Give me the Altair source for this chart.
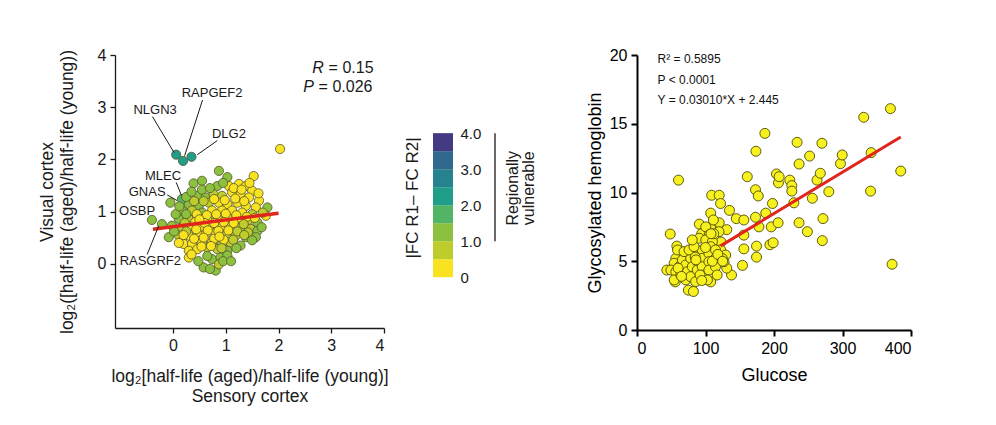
import altair as alt
import pandas as pd

FONT = "Liberation Sans"
INK = "#1a1a1a"

# ---------------- left panel: sensory vs visual cortex ----------------
sens_x = [0.06, 0.19, 0.35, 2.03, -0.40, -0.21, -0.05, 0.17, -0.08,
          0.87, 1.03, 1.53, 0.39, 0.55, 0.84, 1.06, 1.25, 1.38, 1.50,
          0.46, 0.62, 0.77, 0.93, 1.12, 1.28, 1.44, 1.63,
          0.30, 0.49, 0.68, 0.87, 1.03, 1.22, 1.38, 1.57, 1.79,
          0.17, 0.36, 0.55, 0.74, 0.93, 1.12, 1.31, 1.50, 1.76,
          0.11, 0.30, 0.46, 0.65, 0.84, 1.03, 1.22, 1.41, 1.60,
          -0.02, 0.17, 0.36, 0.52, 0.71, 0.90, 1.09, 1.28, 1.47, 1.60,
          0.11, 0.30, 0.46, 0.62, 0.81, 1.00, 1.19, 1.38, 1.57,
          0.20, 0.36, 0.55, 0.74, 0.93, 1.09, 1.28,
          0.30, 0.46, 0.65, 0.84, 1.03,
          0.30, 0.74, 0.90, 1.03, 0.58, 0.81, 0.87, 0.11,
          0.40, 0.58, 0.78, 0.98, 1.18, 1.35,
          0.25, 0.45, 0.64, 0.82, 1.00, 1.20, 1.40,
          0.22, 0.42, 0.60, 0.78, 0.96, 1.15, 1.34,
          0.25, 0.44, 0.66, 0.86, 1.05, 1.22, 1.42,
          0.40, 0.58, 0.78, 0.96, 1.14,
          0.54, 0.72, 0.92, 0.35, 0.95,
          0.05, 0.02, 0.25, 0.55, 0.70, 1.15, 1.45, 1.62, 1.70, 1.68,
          1.50, 1.20, 1.10, 0.65, 0.48, 0.20, 0.12, 0.35, 0.95, 1.30,
          0.70, 1.55, 1.35, 0.88, 0.50]
vis_y = [2.09, 1.97, 2.05, 2.20, 0.84, 0.76, 1.17, 1.24, 0.51,
         1.78, 1.66, 1.68, 1.54, 1.59, 1.49, 1.49, 1.53, 1.49, 1.40,
         1.30, 1.27, 1.33, 1.30, 1.37, 1.33, 1.27, 1.21,
         1.14, 1.11, 1.17, 1.17, 1.14, 1.17, 1.11, 1.08, 1.08,
         1.02, 1.02, 0.98, 1.02, 1.02, 1.02, 0.98, 0.95, 0.92,
         0.86, 0.86, 0.89, 0.86, 0.86, 0.89, 0.86, 0.82, 0.79,
         0.73, 0.70, 0.73, 0.70, 0.70, 0.70, 0.73, 0.70, 0.67, 0.63,
         0.54, 0.54, 0.60, 0.57, 0.60, 0.54, 0.54, 0.51, 0.51,
         0.38, 0.38, 0.41, 0.41, 0.38, 0.41, 0.35,
         0.25, 0.28, 0.31, 0.28, 0.25,
         0.12, 0.09, 0.12, 0.16, -0.07, -0.13, -0.01, 0.40,
         1.20, 1.20, 1.24, 1.22, 1.25, 1.20,
         0.95, 0.95, 0.93, 0.95, 0.96, 0.93, 0.90,
         0.78, 0.80, 0.78, 0.78, 0.80, 0.78, 0.76,
         0.62, 0.66, 0.64, 0.63, 0.64, 0.62, 0.60,
         0.48, 0.50, 0.48, 0.46, 0.46,
         0.33, 0.34, 0.30, 0.18, 0.05,
         0.95, 0.62, 1.28, 1.42, 1.45, 1.45, 1.55, 1.35, 0.98, 0.70,
         0.45, 0.30, 0.05, 0.15, 0.05, 0.55, 1.10, 1.38, 1.55, 1.42,
         -0.10, 0.88, 0.55, 0.52, 0.85]
fc_diff = [2.4, 2.2, 2.1, 0.2, 1.4, 1.2, 1.4, 1.5, 1.1,
           1.3, 1.2, 0.2, 1.4, 1.3, 1.0, 0.3, 0.2, 0.3, 0.2,
           1.2, 1.1, 0.9, 0.7, 0.3, 0.2, 0.3, 0.1,
           1.2, 1.0, 0.9, 0.4, 0.3, 0.2, 0.3, 0.2, 1.0,
           1.1, 0.8, 1.0, 0.4, 0.3, 0.2, 0.3, 0.6, 0.3,
           1.1, 0.8, 0.4, 0.3, 0.2, 0.3, 0.2, 0.7, 1.0,
           1.2, 0.8, 0.3, 0.2, 0.3, 0.2, 0.4, 0.7, 0.9, 1.1,
           0.6, 0.3, 0.2, 0.3, 0.2, 0.6, 0.9, 1.0, 1.1,
           0.2, 0.3, 0.2, 0.3, 0.6, 0.9, 1.0,
           0.2, 0.3, 0.6, 0.9, 1.1,
           0.2, 1.0, 1.1, 1.0, 1.1, 1.0, 0.9, 0.2,
           0.9, 0.5, 0.4, 0.3, 0.2, 0.2,
           1.0, 0.4, 0.2, 0.3, 0.2, 0.3, 0.4,
           0.7, 0.3, 0.2, 0.3, 0.2, 0.3, 0.5,
           0.5, 0.2, 0.3, 0.2, 0.3, 0.6, 0.9,
           0.3, 0.2, 0.4, 0.3, 0.8,
           0.3, 0.4, 0.8, 0.2, 1.0,
           1.2, 1.1, 1.3, 1.2, 1.1, 0.2, 0.3, 0.2, 0.5, 1.0,
           1.1, 1.0, 1.0, 1.0, 1.0, 0.4, 1.2, 1.1, 1.1, 0.3,
           1.0, 0.4, 0.8, 0.3, 0.2]

reg_left_x = [-0.38, 2.0]
reg_left_y = [0.66, 0.97]

gene_names = ["NLGN3", "RAPGEF2", "DLG2", "MLEC", "GNAS", "OSBP", "RASGRF2"]
gene_lx = [-0.34, 0.74, 1.06, -0.19, -0.49, -0.68, -0.43]
gene_ly = [2.95, 3.27, 2.48, 1.68, 1.37, 1.02, 0.06]

lead_x1 = [-0.39, 0.56, 0.84, 0.06, -0.11, -0.49]
lead_y1 = [2.82, 3.14, 2.36, 1.56, 1.32, 0.18]
lead_x2 = [0.02, 0.22, 0.46, 0.16, 0.08, -0.27]
lead_y2 = [2.13, 2.07, 2.09, 1.31, 1.21, 0.73]

stat_letter = ["R", "P"]
stat_letter_x = [2.64, 2.47]
stat_rest = ["= 0.15", "= 0.026"]
stat_rest_x = [2.95, 2.76]
stat_y = [3.76, 3.38]

# ---------------- colour bar ----------------
cb_lo = [0.0, 0.5, 1.0, 1.5, 2.0, 2.5, 3.0, 3.5]
cb_hi = [0.5, 1.0, 1.5, 2.0, 2.5, 3.0, 3.5, 4.0]
cb_colors = ["#f9e21f", "#bfcd2c", "#8cc03f", "#52b566",
             "#1f9e89", "#26828e", "#31688e", "#443a83"]
cb_ticks = [0, 1, 2, 3, 4]

# ---------------- right panel: glucose vs HbA1c ----------------
glucose = [48.5, 60.6, 58.2, 43.6, 55.8, 75, 82.4, 91, 94.5, 109, 107.6, 120, 122, 120,
           131, 135, 145, 156, 122.7, 138, 131, 107.6, 154, 156, 156, 161, 173.6, 186.7,
           173, 177, 173, 178, 188, 174.5, 174.5, 197.8, 196, 194, 198.8, 203.6, 206.5,
           207.5, 206, 223, 226, 226, 229, 233.7, 236.6, 236.6, 248.7, 252, 256, 262.8,
           267.6, 270, 271.5, 270.5, 280, 297, 299.6, 331, 341.8, 341, 370, 372.4, 385,
           107.6, 100.4, 105.3, 119.7, 90.8, 100.4, 110.1, 107.6, 122.2, 129.4, 127,
           56.7, 54.3, 49.5, 56.7, 54.3, 61.5, 66.3, 63.9, 71.1, 73.5, 71.1, 78.3, 80.7,
           78.3, 88, 88, 88, 85.6, 95.2, 95.2, 95.2, 97.6, 105, 105, 105, 102.8, 114.6,
           114.6, 114.6, 117, 124.3, 59.2, 68.7, 76, 83.2, 80.7,
           112, 100, 85, 92, 94.5, 110, 118, 125, 60, 65, 108, 111.5, 86]
hba1c = [6.98, 10.9, 6.1, 4.36, 3.5, 2.9, 2.8, 7.7, 7.0, 9.8, 8.5, 9.8, 9.2, 7.8,
         7.3, 8.7, 8.1, 8.0, 6.4, 4.0, 4.5, 3.5, 4.7, 5.9, 6.9, 11.15, 13.0, 14.3,
         10.2, 9.75, 8.2, 7.5, 8.5, 6.1, 5.3, 9.2, 7.5, 6.2, 6.35, 11.35, 10.7,
         11.15, 7.8, 10.9, 10.5, 10.1, 9.25, 13.65, 12.07, 7.8, 7.15, 12.65, 9.58, 10.9,
         11.4, 13.58, 8.1, 6.5, 10.06, 12.1, 12.73, 15.47, 12.9, 10.1, 16.1, 4.78, 11.56,
         7.4, 7.5, 6.91, 7.15, 6.67, 6.55, 6.42, 6.06, 5.82, 5.45, 4.97,
         5.21, 4.85, 4.36, 4.24, 3.64, 4.6, 5.09, 4.0, 4.73, 4.24, 3.64, 5.21, 4.6,
         3.88, 5.57, 4.97, 4.36, 3.52, 5.82, 5.21, 4.6, 4.0, 5.57, 4.97, 4.36, 3.64, 5.82,
         5.21, 4.6, 4.0, 5.21, 5.82, 5.7, 5.82, 6.06, 6.55,
         7.0, 6.0, 5.3, 4.0, 3.6, 5.0, 5.5, 5.0, 4.5, 3.9, 7.0, 8.0, 5.1]

reg_right_x = [122, 385]
reg_right_y = [6.12, 14.03]

ann_right = ["R² = 0.5895", "P < 0.0001", "Y = 0.03010*X + 2.445"]
ann_right_x = [30, 30, 30]
ann_right_y = [19.7, 18.2, 16.7]

# ======================= build =======================
left_pts = pd.DataFrame({"x": sens_x, "y": vis_y, "d": fc_diff})
left_reg = pd.DataFrame({"x": reg_left_x, "y": reg_left_y})
left_lab = pd.DataFrame({"x": gene_lx, "y": gene_ly, "t": gene_names})
left_lead = pd.DataFrame({"x": lead_x1, "y": lead_y1, "x2": lead_x2, "y2": lead_y2})
left_let = pd.DataFrame({"x": stat_letter_x, "y": stat_y, "t": stat_letter})
left_rest = pd.DataFrame({"x": stat_rest_x, "y": stat_y, "t": stat_rest})

common_l = dict(domainColor=INK, domainWidth=1.3, tickColor=INK, tickWidth=1.3,
                tickSize=5, labelFontSize=16, labelColor=INK, labelFont=FONT,
                titleFontSize=17.5, titleFontWeight="normal", titleColor=INK,
                titleFont=FONT, grid=False, titleLineHeight=20)

XL = alt.X("x:Q", scale=alt.Scale(domain=[-1.1, 4], nice=False, zero=False),
           axis=alt.Axis(values=[0, 1, 2, 3, 4], labelPadding=4, titlePadding=14,
                         title=["log₂[half-life (aged)/half-life (young)]", "Sensory cortex"],
                         **common_l))
YL = alt.Y("y:Q", scale=alt.Scale(domain=[-1.23, 4], nice=False, zero=False),
           axis=alt.Axis(values=[0, 1, 2, 3, 4], labelPadding=4, titlePadding=21,
                         title=["Visual cortex", "log₂([half-life (aged)/half-life (young))"],
                         **common_l))

thr = alt.Scale(type="threshold", domain=cb_lo[1:], range=cb_colors)

l_points = alt.Chart(left_pts).mark_circle(size=85, opacity=1, stroke="#55552c",
                                            strokeWidth=0.8).encode(
    x=XL, y=YL, color=alt.Color("d:Q", scale=thr, legend=None))
l_line = alt.Chart(left_reg).mark_line(color="#e0261c", strokeWidth=3.5).encode(x=XL, y=YL)
l_lead = alt.Chart(left_lead).mark_rule(color=INK, strokeWidth=1).encode(
    x=XL, y=YL, x2="x2:Q", y2="y2:Q")
l_text = alt.Chart(left_lab).mark_text(font=FONT, fontSize=13, color=INK,
                                       align="center", baseline="middle").encode(
    x=XL, y=YL, text="t:N")
l_let = alt.Chart(left_let).mark_text(font=FONT, fontSize=16, fontStyle="italic", color=INK,
                                      align="left", baseline="middle").encode(
    x=XL, y=YL, text="t:N")
l_rest = alt.Chart(left_rest).mark_text(font=FONT, fontSize=16, color=INK,
                                        align="left", baseline="middle").encode(
    x=XL, y=YL, text="t:N")

left = alt.layer(l_points, l_line, l_lead, l_text, l_let, l_rest).properties(
    width=269, height=273, view=alt.ViewConfig(stroke=None))

# colour bar
cb_df = pd.DataFrame({"lo": cb_lo, "hi": cb_hi, "c": cb_colors})
YC = alt.Y("lo:Q", scale=alt.Scale(domain=[-1.41, 6.17], nice=False, zero=False),
           axis=alt.Axis(orient="right", values=cb_ticks, ticks=False, domain=False,
                         grid=False, title=None, labelFontSize=15, labelFont=FONT,
                         labelColor=INK, labelPadding=7,
                         labelExpr="datum.value == 0 ? '0' : format(datum.value, '.1f')"))
cb_rect = alt.Chart(cb_df).mark_rect().encode(
    x=alt.value(0), x2=alt.value(20), y=YC, y2="hi:Q",
    color=alt.Color("c:N", scale=None))
cb_rule = alt.Chart(pd.DataFrame({"lo": [1.0], "hi": [4.0]})).mark_rule(
    color=INK, strokeWidth=1.3).encode(x=alt.value(62), y=YC, y2="hi:Q")
cb_title = alt.Chart(pd.DataFrame({"lo": [2.2], "t": ["|FC R1– FC R2|"]})).mark_text(
    font=FONT, fontSize=17, color=INK, angle=270, align="center", baseline="middle").encode(
    x=alt.value(-20), y=YC, text="t:N")
cb_vul = alt.Chart(pd.DataFrame({"lo": [2.47], "t": ["Regionally\nvulnerable"]})).mark_text(
    font=FONT, fontSize=16, color=INK, angle=270, align="center", baseline="middle",
    lineBreak="\n", lineHeight=16).encode(
    x=alt.value(80), y=YC, text="t:N")
cbar = alt.layer(cb_rect, cb_rule, cb_title, cb_vul).properties(
    width=20, height=273, view=alt.ViewConfig(stroke=None))

# right panel
right_pts = pd.DataFrame({"x": glucose, "y": hba1c})
right_reg = pd.DataFrame({"x": reg_right_x, "y": reg_right_y})
right_ann = pd.DataFrame({"x": ann_right_x, "y": ann_right_y, "t": ann_right})

common_r = dict(domainColor="#000", domainWidth=2, tickColor="#000", tickWidth=2,
                tickSize=6, labelFontSize=16, labelColor="#000", labelFont=FONT,
                titleFontSize=18, titleFontWeight="normal", titleColor="#000",
                titleFont=FONT, grid=False)
XR = alt.X("x:Q", scale=alt.Scale(domain=[0, 400], nice=False),
           axis=alt.Axis(values=[0, 100, 200, 300, 400], title="Glucose",
                         labelPadding=4, titlePadding=10, **common_r))
YR = alt.Y("y:Q", scale=alt.Scale(domain=[0, 20], nice=False),
           axis=alt.Axis(values=[0, 5, 10, 15, 20], title="Glycosylated hemoglobin",
                         labelPadding=4, titlePadding=5, **common_r))
r_points = alt.Chart(right_pts).mark_circle(size=100, opacity=1, color="#f6f11f",
                                             stroke="#4f4a00", strokeWidth=0.9).encode(x=XR, y=YR)
r_line = alt.Chart(right_reg).mark_line(color="#e0261c", strokeWidth=3).encode(x=XR, y=YR)
r_ann = alt.Chart(right_ann).mark_text(font=FONT, fontSize=12, color="#111",
                                       align="left", baseline="middle").encode(
    x=XR, y=YR, text="t:N")
right = alt.layer(r_points, r_line, r_ann).properties(
    width=274, height=275, view=alt.ViewConfig(stroke=None))

chart = alt.hconcat(alt.hconcat(left, cbar, spacing=15), right, spacing=49).properties(
    padding={"left": 30, "top": 39, "right": 5, "bottom": 5}
).configure(font=FONT).configure_view(stroke=None)

chart.save("out.html", embed_options={"renderer": "svg", "actions": False})
